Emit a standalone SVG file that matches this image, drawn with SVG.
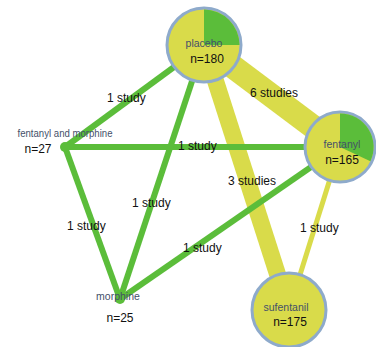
<svg xmlns="http://www.w3.org/2000/svg" width="376" height="347" viewBox="0 0 376 347">
  <style>
    .yel { stroke: #d9db4a; fill: none; }
    .grn { stroke: #5bbd3a; fill: none; stroke-width: 6; }
    .pie { fill: #d9db4a; stroke: #8eaacb; stroke-width: 3; }
    .slice { fill: #5bbd3a; }
    .dot { fill: #5bbd3a; }
    .name { font-family: "Liberation Sans", Arial, sans-serif; font-size: 10.5px; fill: #445069; }
    .count { font-family: "Liberation Sans", Arial, sans-serif; font-size: 12px; fill: #111; }
    .lbl { font-family: "Liberation Sans", Arial, sans-serif; font-size: 12px; fill: #111; }
  </style>
  <rect width="376" height="347" fill="#ffffff"/>

  <g id="connectors">
    <line class="yel" x1="204" y1="45" x2="340" y2="147" stroke-width="24"/>
    <line class="yel" x1="204" y1="45" x2="289" y2="310" stroke-width="17"/>
    <line class="yel" x1="340" y1="147" x2="289" y2="310" stroke-width="5"/>
    <line class="grn" x1="204" y1="45" x2="65" y2="147"/>
    <line class="grn" x1="65" y1="147" x2="340" y2="147"/>
    <line class="grn" x1="204" y1="45" x2="120" y2="299"/>
    <line class="grn" x1="65" y1="147" x2="120" y2="299"/>
    <line class="grn" x1="340" y1="147" x2="120" y2="299"/>
    <text class="lbl" x="250" y="97">6 studies</text>
    <text class="lbl" x="228" y="185">3 studies</text>
    <text class="lbl" x="300" y="232">1 study</text>
    <text class="lbl" x="107" y="102">1 study</text>
    <text class="lbl" x="178" y="150">1 study</text>
    <text class="lbl" x="132" y="207">1 study</text>
    <text class="lbl" x="67" y="230">1 study</text>
    <text class="lbl" x="183" y="252">1 study</text>
  </g>

  <g id="placebo">
    <circle class="pie" cx="204" cy="45" r="37"/>
    <path class="slice" d="M204,45 L204,9.5 A35.5,35.5 0 0,1 239.5,45 Z"/>
    <text class="name" x="204" y="47" text-anchor="middle">placebo</text>
    <text class="count" x="207" y="63" text-anchor="middle">n=180</text>
  </g>

  <g id="fentanyl">
    <circle class="pie" cx="340" cy="147" r="35"/>
    <path class="slice" d="M340,147 L340,113.5 A33.5,33.5 0 0,1 370.4,161.2 Z"/>
    <text class="name" x="342" y="148" text-anchor="middle">fentanyl</text>
    <text class="count" x="342" y="164" text-anchor="middle">n=165</text>
  </g>

  <g id="sufentanil">
    <circle class="pie" cx="289" cy="310" r="37"/>
    <text class="name" x="286" y="311" text-anchor="middle">sufentanil</text>
    <text class="count" x="290" y="326" text-anchor="middle">n=175</text>
  </g>

  <g id="fentanyl-and-morphine">
    <circle class="dot" cx="65" cy="147" r="5"/>
    <text class="name" x="65" y="137" text-anchor="middle" textLength="95" lengthAdjust="spacingAndGlyphs">fentanyl and morphine</text>
    <text class="count" x="38" y="153" text-anchor="middle">n=27</text>
  </g>

  <g id="morphine">
    <circle class="dot" cx="120" cy="299" r="5"/>
    <text class="name" x="118" y="300" text-anchor="middle">morphine</text>
    <text class="count" x="120" y="322" text-anchor="middle">n=25</text>
  </g>
</svg>
